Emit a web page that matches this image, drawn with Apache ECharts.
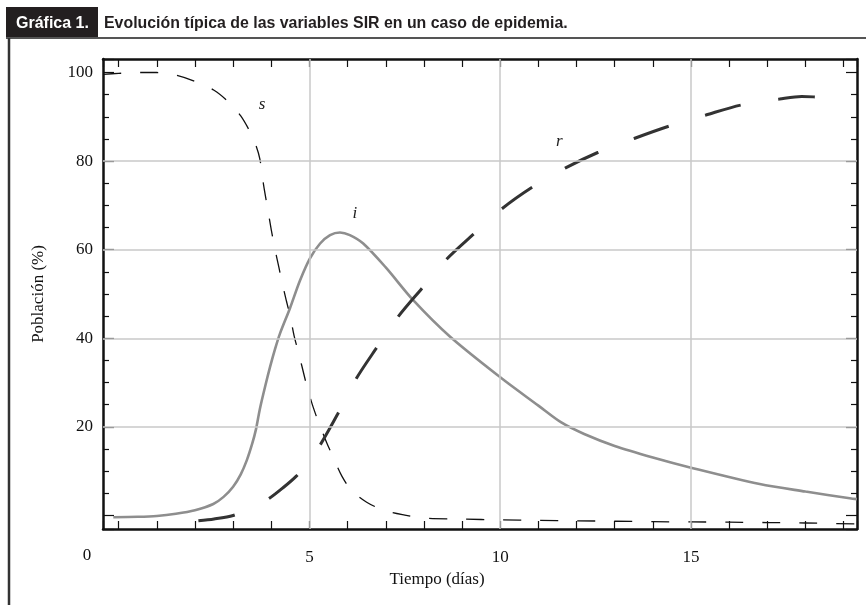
<!DOCTYPE html>
<html><head><meta charset="utf-8">
<script src="https://cdn.jsdelivr.net/npm/echarts@6/dist/echarts.min.js"></script>
<style>html,body{margin:0;padding:0;background:#fff;}#c{width:866px;height:605px;}</style>
</head><body><div id="c"></div>
<script>
const figureTag = 'Gráfica 1.';
const figureTitle = 'Evolución típica de las variables SIR en un caso de epidemia.';
const xAxisTitle = 'Tiempo (días)';
const yAxisTitle = 'Población (%)';
const cornerLabel = '0';
const xTickLabels = [5, 10, 15];
const yTickLabels = [20, 40, 60, 80, 100];
const xGridLines = [5, 10, 15];
const yGridLines = [20, 40, 60, 80];
const xRange = [-0.41, 19.35];
const yRange = [-3.05, 103.05];

const sDays = [-0.4, 0, 0.5, 1.0, 1.5, 2.0, 2.5, 2.9, 3.2, 3.45, 3.6, 3.7, 3.8, 3.9, 4.0, 4.1, 4.2, 4.3, 4.4, 4.5, 4.6, 4.7, 4.8, 4.9, 5.0, 5.1, 5.25, 5.45, 5.65, 5.85, 6.1, 6.5, 6.95, 7.5, 8, 9, 10, 11, 12, 13, 14, 15, 16, 17, 18, 19.3];
const sValues = [99.6, 99.8, 100, 100, 99.4, 98.0, 96, 93.2, 90.2, 86.5, 83.5, 80.5, 74.5, 69.5, 64.5, 60, 56, 52, 48.3, 44.8, 40.5, 37.2, 33.8, 30.3, 27.2, 24.4, 20.8, 16.5, 12.6, 8.9, 5.7, 3.0, 1.2, 0.1, -0.6, -0.8, -1.0, -1.1, -1.2, -1.3, -1.4, -1.45, -1.5, -1.6, -1.7, -1.9];

const iDays = [-0.14, 0.5, 1.0, 1.5, 2.0, 2.48, 2.75, 3.0, 3.2, 3.36, 3.5, 3.6, 3.7, 3.85, 3.97, 4.1, 4.23, 4.49, 4.75, 5.01, 5.28, 5.54, 5.8, 6.06, 6.41, 7.0, 7.72, 8.68, 10, 11, 11.6, 12.2, 13.0, 14.0, 15, 16.8, 18, 19.16, 19.35];
const iValues = [-0.4, -0.3, -0.1, 0.4, 1.2, 2.6, 4.2, 6.5, 9.3, 12.5, 16.2, 19.5, 24, 29.5, 33.6, 37.6, 41.1, 46.8, 53, 58, 61.4, 63.3, 63.9, 63.3, 61.4, 56, 48.6, 40.4, 31.2, 24.8, 21.0, 18.4, 15.7, 13.1, 10.8, 7.1, 5.4, 3.9, 3.7];

const rDays = [2.09, 2.5, 3.0, 3.5, 3.92, 4.3, 4.67, 5.0, 5.28, 5.74, 6.22, 6.74, 7.31, 7.94, 8.6, 9.3, 10.04, 10.84, 11.7, 12.57, 13.51, 14.43, 15.39, 16.33, 17.32, 17.9, 18.21, 18.9];
const rValues = [-1.2, -0.8, 0, 1.8, 3.7, 6.2, 9.0, 12.4, 15.9, 22.9, 30.8, 37.6, 44.7, 51.2, 57.9, 63.5, 69.2, 74.1, 78.4, 82.0, 85.1, 87.9, 90.4, 92.7, 94.0, 94.6, 94.5, 94.0];

const labelNames = ['s', 'i', 'r'];
const labelDays = [3.76, 6.19, 11.55];
const labelValues = [92.7, 68.2, 84.4];

const pairs = (xs, ys) => xs.map((x, k) => [x, ys[k]]);
const serif = '"Liberation Serif", "DejaVu Serif", serif';
const ink = '#111';

const chart = echarts.init(document.getElementById('c'), null, {renderer: 'canvas'});

const isTick = (v, list) => list.some(t => Math.abs(v - t) < 1e-6);

const xCommon = {
  type: 'value', min: xRange[0], max: xRange[1], splitNumber: 20,
  axisLine: {show: true, onZero: false, lineStyle: {color: ink, width: 2.5}},
  axisTick: {show: true, inside: true, length: 8, lineStyle: {color: ink, width: 1.2}},
  splitLine: {show: false}
};
const yCommon = {
  type: 'value', min: yRange[0], max: yRange[1], splitNumber: 5,
  axisLine: {show: true, onZero: false, lineStyle: {color: ink, width: 2.5}},
  axisTick: {show: true, inside: true, length: 11, lineStyle: {color: ink, width: 1.2}},
  minorTick: {show: true, splitNumber: 4, length: 6, lineStyle: {color: ink, width: 1.2}},
  splitLine: {show: false}
};

chart.setOption({
  animation: false,
  backgroundColor: '#fff',
  grid: {left: 103, right: 9, top: 59, bottom: 76, containLabel: false},
  xAxis: [
    Object.assign({}, xCommon, {
      position: 'bottom',
      axisLabel: {
        formatter: v => isTick(v, xTickLabels) ? String(Math.round(v)) : '',
        fontFamily: serif, fontSize: 17, color: ink, margin: 20
      },
      name: xAxisTitle, nameLocation: 'middle', nameGap: 40,
      nameTextStyle: {fontFamily: serif, fontSize: 17, color: ink, padding: [0, 86, 0, 0]}
    }),
    Object.assign({}, xCommon, {position: 'top', axisLabel: {show: false}})
  ],
  yAxis: [
    Object.assign({}, yCommon, {
      position: 'left',
      axisLabel: {
        formatter: v => isTick(v, yTickLabels) ? String(Math.round(v)) : '',
        fontFamily: serif, fontSize: 17, color: ink, margin: 10
      },
      name: yAxisTitle, nameLocation: 'middle', nameGap: 56, nameRotate: 90,
      nameTextStyle: {fontFamily: serif, fontSize: 17, color: ink}
    }),
    Object.assign({}, yCommon, {position: 'right', axisLabel: {show: false}})
  ],
  graphic: [
    {type: 'rect', shape: {x: 6, y: 7, width: 92, height: 31}, style: {fill: '#231f20'}, z: 10},
    {type: 'text', x: 16, y: 24, z: 11, style: {text: figureTag, fill: '#fff', font: 'bold 16px "Liberation Sans", Arial, sans-serif', verticalAlign: 'middle'}},
    {type: 'text', x: 104, y: 24, z: 11, style: {text: figureTitle, fill: '#231f20', font: 'bold 15.9px "Liberation Sans", Arial, sans-serif', verticalAlign: 'middle'}},
    {type: 'line', z: 10, shape: {x1: 6, y1: 38, x2: 866, y2: 38}, style: {stroke: '#555', lineWidth: 2}},
    {type: 'line', z: 10, shape: {x1: 9, y1: 38, x2: 9, y2: 605}, style: {stroke: '#333', lineWidth: 2.5}},
    {type: 'text', x: 87, y: 556, z: 11, style: {text: cornerLabel, fill: ink, font: '17px ' + serif, align: 'center', verticalAlign: 'middle'}}
  ],
  series: [
    {
      type: 'line', data: [], silent: true, z: 1,
      markLine: {
        silent: true, symbol: ['none', 'none'], label: {show: false},
        lineStyle: {color: '#c9c9c9', width: 1.5, type: 'solid'},
        data: xGridLines.map(v => ({xAxis: v})).concat(yGridLines.map(v => ({yAxis: v})))
      },
      markPoint: {
        silent: true, symbol: 'circle', symbolSize: 0,
        label: {show: true, position: 'inside', formatter: p => p.name, fontFamily: serif, fontStyle: 'italic', fontSize: 17, color: '#222'},
        data: labelNames.map((n, k) => ({name: n, coord: [labelDays[k], labelValues[k]]}))
      }
    },
    {
      name: 'i', type: 'line', data: pairs(iDays, iValues), smooth: 0.3, showSymbol: false, z: 3,
      lineStyle: {color: '#8e8e8e', width: 2.6, type: 'solid'}
    },
    {
      name: 's', type: 'line', data: pairs(sDays, sValues), smooth: 0.3, showSymbol: false, z: 4,
      lineStyle: {color: '#111', width: 1.3, type: [18, 19]}
    },
    {
      name: 'r', type: 'line', data: pairs(rDays, rValues), smooth: 0.3, showSymbol: false, z: 4,
      lineStyle: {color: '#333', width: 3, type: [37, 38]}
    }
  ]
});
</script>
</body></html>
